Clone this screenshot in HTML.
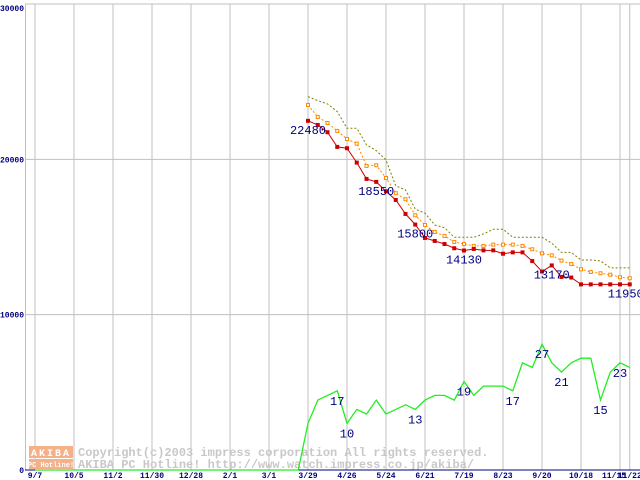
<!DOCTYPE html>
<html><head><meta charset="utf-8"><style>
html,body{margin:0;padding:0;background:#fff;width:640px;height:480px;overflow:hidden}
svg{display:block;font-family:"Liberation Mono","DejaVu Sans Mono",monospace}
</style></head><body>
<svg id="chart" width="640" height="480" viewBox="0 0 640 480" xmlns="http://www.w3.org/2000/svg">
<g id="grid"></g>
<g id="wm">
<rect x="29" y="446" width="44" height="12" fill="#f4b088"/>
<text x="51" y="456" font-size="10" font-weight="bold" fill="#fff" text-anchor="middle" letter-spacing="2">AKIBA</text>
<rect x="29" y="459" width="44" height="10" fill="#f4b088"/>
<text x="51" y="467" font-size="7" font-weight="bold" fill="#fff" text-anchor="middle">PC Hotline!</text>
<text x="78" y="456" font-size="12" font-weight="bold" fill="#c8c8c8">Copyright(c)2003 impress corporation All rights reserved.</text>
<text x="78" y="468" font-size="12" font-weight="bold" fill="#c8c8c8">AKIBA PC Hotline!  http://www.watch.impress.co.jp/akiba/</text>
</g>
<g id="axes"></g>
<g id="series"></g>
<g id="labels"></g>
</svg>
<script>
const xTickLabels=["9/7","10/5","11/2","11/30","12/28","2/1","3/1","3/29","4/26","5/24","6/21","7/19","8/23","9/20","10/18","11/15","11/22"];
const xTickWeeks=[0,4,8,12,16,20,24,28,32,36,40,44,48,52,56,60,61];
const yTickLabels=["0","10000","20000","30000"];
const yTickValues=[0,10000,20000,30000];
const startWeek=28;
const minPrice=[22480,22215,21745,20800,20715,19790,18740,18550,17945,17385,16485,15800,14940,14745,14550,14275,14130,14230,14140,14140,13925,14010,14010,13450,12780,13170,12430,12390,11950,11950,11950,11950,11950,11950];
const avgPrice=[23500,22730,22340,21830,21310,21010,19575,19620,18800,17820,17430,16400,15775,15325,15070,14680,14550,14425,14425,14510,14510,14510,14425,14210,13950,13820,13480,13265,12920,12750,12665,12575,12410,12345];
const maxPrice=[24040,23780,23570,23070,22000,22000,20930,20560,19960,18290,18030,16790,16530,15775,15600,14980,14980,14980,15200,15500,15500,14980,14980,14980,14980,14600,14010,14010,13520,13520,13460,13010,13010,13010];
const shopCount=[10,15,16,17,10,13,12,15,12,13,14,13,15,16,16,15,19,16,18,18,18,17,23,22,27,23,21,23,24,24,15,21,23,22];
const priceLabelIdx=[0,7,11,16,25,33];
const countLabelIdx=[3,4,11,16,21,24,26,30,32];

const NS="http://www.w3.org/2000/svg";
const X0=35,WK=9.75,Y0=470,PPX=466;
const xs=w=>X0+w*WK;
const yp=v=>Y0-v/30000*PPX;
const yc=v=>Y0-v/100*PPX;
function mk(tag,attrs,parent){const e=document.createElementNS(NS,tag);for(const k in attrs)e.setAttribute(k,attrs[k]);parent.appendChild(e);return e;}
const grid=document.getElementById('grid'),axes=document.getElementById('axes'),series=document.getElementById('series'),labels=document.getElementById('labels');

yTickValues.forEach((v,i)=>{
  if(v>0){const l=mk('line',{x1:25,x2:640,y1:yp(v),y2:yp(v),stroke:'#c0c0c0','stroke-width':1},grid);
  
  }
  const t=mk('text',{x:24,y:yp(v)+(v==30000?7:3),'font-size':8,'font-weight':'bold',fill:'#000080','text-anchor':'end'},axes);
  t.textContent=yTickLabels[i];
  
  
});
xTickWeeks.forEach((w,i)=>{
  const l=mk('line',{x1:xs(w),x2:xs(w),y1:4,y2:Y0,stroke:'#c0c0c0','stroke-width':1},grid);
  
  
  const t=mk('text',{x:xs(w)-(i==15?6:0),y:478,'font-size':8,'font-weight':'bold',fill:'#000080','text-anchor':'middle'},axes);
  t.textContent=xTickLabels[i];
  
  
});
let a=mk('line',{x1:25.5,x2:25.5,y1:4,y2:Y0,stroke:'#c0c0c0'},axes);


a=mk('line',{x1:25,x2:640,y1:Y0,y2:Y0,stroke:'#000080'},axes);



function pts(arr,fy){return arr.map((v,i)=>xs(startWeek+i).toFixed(1)+','+fy(v).toFixed(1)).join(' ');}
let cp=[];for(let w=0;w<startWeek;w++)cp.push(xs(w)+','+yc(0));
cp.push(pts(shopCount,yc));
let p=mk('polyline',{points:cp.join(' '),fill:'none',stroke:'#22ee22','stroke-width':1.3},series);


p=mk('polyline',{points:pts(maxPrice,yp),fill:'none',stroke:'#808000','stroke-width':1,'stroke-dasharray':'2,2'},series);


p=mk('polyline',{points:pts(avgPrice,yp),fill:'none',stroke:'#ff8800','stroke-width':1,'stroke-dasharray':'2,2'},series);


avgPrice.forEach((v,i)=>{
  const r=mk('rect',{x:xs(startWeek+i)-1.5,y:yp(v)-1.5,width:3,height:3,fill:'#fff',stroke:'#ff8800','stroke-width':1},series);
  
  
});
p=mk('polyline',{points:pts(minPrice,yp),fill:'none',stroke:'#cc0000','stroke-width':1},series);


minPrice.forEach((v,i)=>{
  const r=mk('rect',{x:xs(startWeek+i)-2,y:yp(v)-2,width:4,height:4,fill:'#cc0000'},series);
  
  
});
priceLabelIdx.forEach(i=>{
  const t=mk('text',{x:xs(startWeek+i)-(i==33?4:0),y:yp(minPrice[i])+13,'font-size':12,fill:'#000080','text-anchor':'middle'},labels);
  t.textContent=minPrice[i];
  
  
});
countLabelIdx.forEach(i=>{
  const t=mk('text',{x:xs(startWeek+i),y:yc(shopCount[i])+14,'font-size':12,fill:'#000080','text-anchor':'middle'},labels);
  t.textContent=shopCount[i];
  
  
});
</script>
</body></html>
